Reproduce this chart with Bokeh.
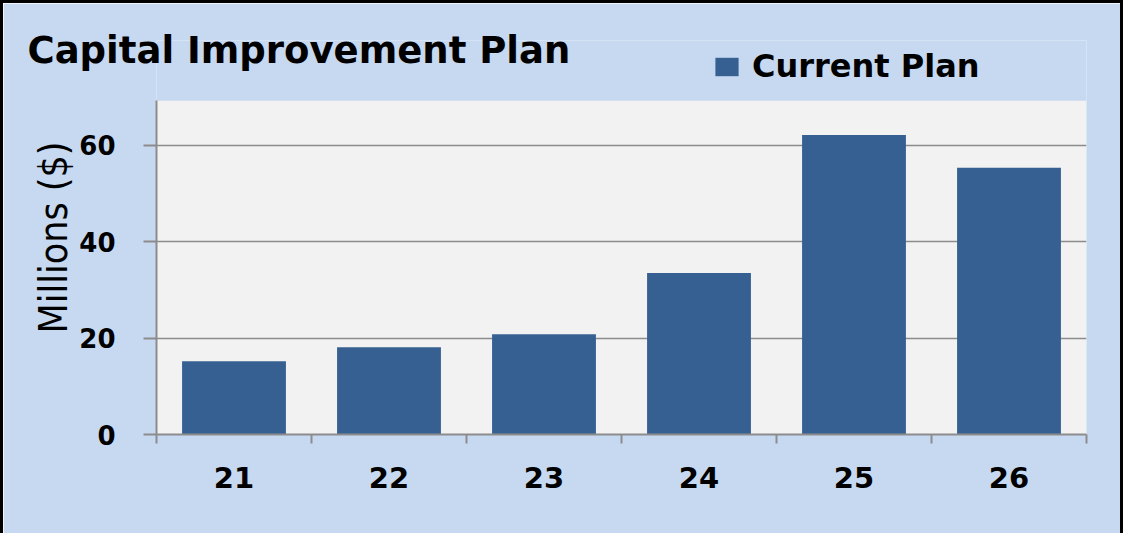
from bokeh.plotting import figure
from bokeh.models import (ColumnDataSource, FixedTicker, Legend, LegendItem, Range1d, BoxAnnotation)
from bokeh.layouts import column
from bokeh.embed import file_html
from bokeh.resources import INLINE

# ---- data ----
years = ["21", "22", "23", "24", "25", "26"]
current_plan = [15.2, 18.1, 20.8, 33.5, 62.1, 55.3]
y_ticks = [0, 20, 40, 60]
y_max = 69.2
title_text = "Capital Improvement Plan"
series_name = "Current Plan"
y_label = "Millions ($)"

positions = list(range(1, len(years) + 1))
boundaries = [p - 0.5 for p in positions] + [positions[-1] + 0.5]

BG = "#C6D9F1"
PLOT_BG = "#F2F2F2"
BAR = "#376092"
GRID = "#8C8C8C"
FONT = "DejaVu Sans"
NARROW = "'Liberation Sans Narrow', 'DejaVu Sans Condensed', 'Liberation Sans', sans-serif"

# frame extends above the plot area so the legend can sit inside it
p = figure(width=1117, height=530, output_backend="svg", toolbar_location=None,
           x_range=Range1d(0.5, len(years) + 0.5), y_range=Range1d(0, 81.7),
           min_border_left=153, min_border_right=34, min_border_top=37, min_border_bottom=99)
p.border_fill_color = BG
p.background_fill_color = BG
p.outline_line_color = None

# grey plot area
p.add_layout(BoxAnnotation(bottom=0, top=y_max, fill_color=PLOT_BG, fill_alpha=1,
                           line_color=None, level="image"))

src = ColumnDataSource(dict(x=positions, top=current_plan, label=years))
r = p.vbar(x="x", top="top", width=0.67, source=src, fill_color=BAR, line_color=None)

# y axis
p.yaxis.ticker = FixedTicker(ticks=y_ticks)
p.yaxis.bounds = (0, y_max)
p.yaxis.major_tick_out = 13
p.yaxis.major_tick_in = 0
p.yaxis.minor_tick_out = 0
p.yaxis.minor_tick_in = 0
p.yaxis.axis_line_color = GRID
p.yaxis.axis_line_width = 2
p.yaxis.major_tick_line_color = GRID
p.yaxis.major_tick_line_width = 2
p.yaxis.major_label_text_font = FONT
p.yaxis.major_label_text_font_style = "bold"
p.yaxis.major_label_text_font_size = "26px"
p.yaxis.major_label_text_color = "black"
p.yaxis.major_label_standoff = 28
p.yaxis.axis_label = y_label
p.yaxis.axis_label_text_font = NARROW
p.yaxis.axis_label_text_font_style = "normal"
p.yaxis.axis_label_text_font_size = "39px"
p.yaxis.axis_label_text_color = "black"
p.yaxis.axis_label_standoff = 0

# x axis (labels at category centres, ticks at category boundaries)
p.xaxis.ticker = FixedTicker(ticks=positions, minor_ticks=boundaries)
p.xaxis.major_label_overrides = {pos: lab for pos, lab in zip(positions, years)}
p.xaxis.major_tick_out = 0
p.xaxis.major_tick_in = 0
p.xaxis.minor_tick_out = 9
p.xaxis.minor_tick_in = 0
p.xaxis.minor_tick_line_color = GRID
p.xaxis.minor_tick_line_width = 2
p.xaxis.axis_line_color = GRID
p.xaxis.axis_line_width = 2
p.xaxis.major_label_text_font = FONT
p.xaxis.major_label_text_font_style = "bold"
p.xaxis.major_label_text_font_size = "29px"
p.xaxis.major_label_text_color = "black"
p.xaxis.major_label_standoff = 23

p.xgrid.grid_line_color = None
p.ygrid.ticker = FixedTicker(ticks=y_ticks[1:])
p.ygrid.grid_line_color = GRID
p.ygrid.grid_line_width = 1.5

# legend inside the (extended) frame
legend = Legend(items=[LegendItem(label=series_name, renderers=[r])],
                location=(556, 349), orientation="horizontal",
                padding=0, margin=0, glyph_width=29, glyph_height=23, label_standoff=11,
                label_text_font=FONT, label_text_font_style="bold",
                label_text_font_size="32px", label_text_color="black",
                background_fill_alpha=0, border_line_color=None)
p.add_layout(legend, "center")

# title
p.title.text = title_text
p.title.align = "left"
p.title.offset = -129
p.title.standoff = -62
p.title.text_font = FONT
p.title.text_font_style = "bold"
p.title.text_font_size = "37px"
p.title.text_color = "black"

layout = column(p)
layout.styles = {"border-left": "3px solid black", "border-right": "3px solid black",
                 "border-top": "3px solid black"}

open("out.html", "w").write(file_html(layout, INLINE))
